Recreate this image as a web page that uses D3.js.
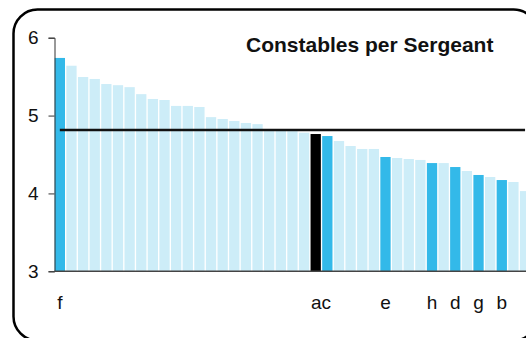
<!DOCTYPE html>
<html>
<head>
<meta charset="utf-8">
<script src="https://cdn.jsdelivr.net/npm/d3@7"></script>
<style>
  html, body { margin: 0; padding: 0; background: #fff; }
  svg { display: block; font-family: "Liberation Sans", Arial, sans-serif; }
</style>
</head>
<body>
<svg id="chart" width="526" height="338"></svg>
<script>
// ---- data ----
const values = [5.74, 5.64, 5.495, 5.47, 5.405, 5.39, 5.365, 5.275, 5.213, 5.20,
                5.124, 5.124, 5.11, 4.98, 4.956, 4.93, 4.905, 4.89, 4.82, 4.81,
                4.80, 4.78, 4.763, 4.737, 4.673, 4.609, 4.571, 4.571, 4.468, 4.455,
                4.442, 4.43, 4.39, 4.39, 4.339, 4.288, 4.237, 4.211, 4.172, 4.147, 4.03];
const labels = ["f", "", "", "", "", "", "", "", "", "",
                "", "", "", "", "", "", "", "", "", "",
                "", "", "a", "c", "", "", "", "", "e", "",
                "", "", "h", "", "d", "", "g", "", "b", "", ""];
// "n" normal, "h" highlighted, "k" benchmark
const kinds  = ["h", "n", "n", "n", "n", "n", "n", "n", "n", "n",
                "n", "n", "n", "n", "n", "n", "n", "n", "n", "n",
                "n", "n", "k", "h", "n", "n", "n", "n", "h", "n",
                "n", "n", "h", "n", "h", "n", "h", "n", "h", "n", "n"];
const meanValue = 4.815;
const yTicks = [3, 4, 5, 6];
const title = "Constables per Sergeant";

const colors = { n: "#cdedf8", h: "#33b9e9", k: "#000000" };

const svg = d3.select("#chart");

// frame
svg.append("rect")
  .attr("x", 13.5).attr("y", 9.5)
  .attr("width", 524).attr("height", 331)
  .attr("rx", 24).attr("ry", 24)
  .attr("fill", "none").attr("stroke", "#000").attr("stroke-width", 2.5);

const idx = d3.range(values.length);
const x = d3.scaleBand().domain(idx).range([54.7, 530.2]).paddingInner(0.115).paddingOuter(0);
const y = d3.scaleLinear().domain([3, 6]).range([271.3, 37.7]);

// bars
svg.append("g").selectAll("rect").data(idx).join("rect")
  .attr("x", i => x(i))
  .attr("y", i => y(values[i]))
  .attr("width", x.bandwidth())
  .attr("height", i => y(3) - y(values[i]))
  .attr("fill", i => colors[kinds[i]]);

// mean line
svg.append("line")
  .attr("x1", x(0) + x.bandwidth() / 2)
  .attr("x2", x(values.length - 1) + x.bandwidth() / 2)
  .attr("y1", y(meanValue)).attr("y2", y(meanValue))
  .attr("stroke", "#111").attr("stroke-width", 2.5);

// y axis
const yAxis = svg.append("g")
  .attr("transform", "translate(54.5,0)")
  .call(d3.axisLeft(y).tickValues(yTicks).tickFormat(d3.format("d")).tickSize(6).tickPadding(10));
yAxis.select(".domain").attr("stroke", "#333");
yAxis.selectAll(".tick line").attr("stroke", "#333");
yAxis.selectAll(".tick text").attr("font-size", 19).attr("fill", "#111")
  .style("font-family", '"Liberation Sans", Arial, sans-serif');

// x axis baseline
svg.append("line")
  .attr("x1", 54.5).attr("x2", 526)
  .attr("y1", y(3)).attr("y2", y(3))
  .attr("stroke", "#444").attr("stroke-width", 1.5);

// category labels
svg.append("g").selectAll("text").data(idx.filter(i => labels[i] !== "")).join("text")
  .attr("x", i => {
    const c = x(i) + x.bandwidth() / 2;
    if (labels[i + 1]) return (c + x(i + 1) + x.bandwidth() / 2) / 2;
    if (i > 0 && labels[i - 1]) return (c + x(i - 1) + x.bandwidth() / 2) / 2;
    return c;
  })
  .attr("text-anchor", i => labels[i + 1] ? "end" : (i > 0 && labels[i - 1] ? "start" : "middle"))
  .attr("y", 308.5)
  .attr("font-size", 19)
  .attr("fill", "#111")
  .text(i => labels[i]);

// title
svg.append("text")
  .attr("x", 246).attr("y", 51.5)
  .attr("font-size", 21).attr("font-weight", "bold")
  .attr("fill", "#111")
  .text(title);
</script>
</body>
</html>
